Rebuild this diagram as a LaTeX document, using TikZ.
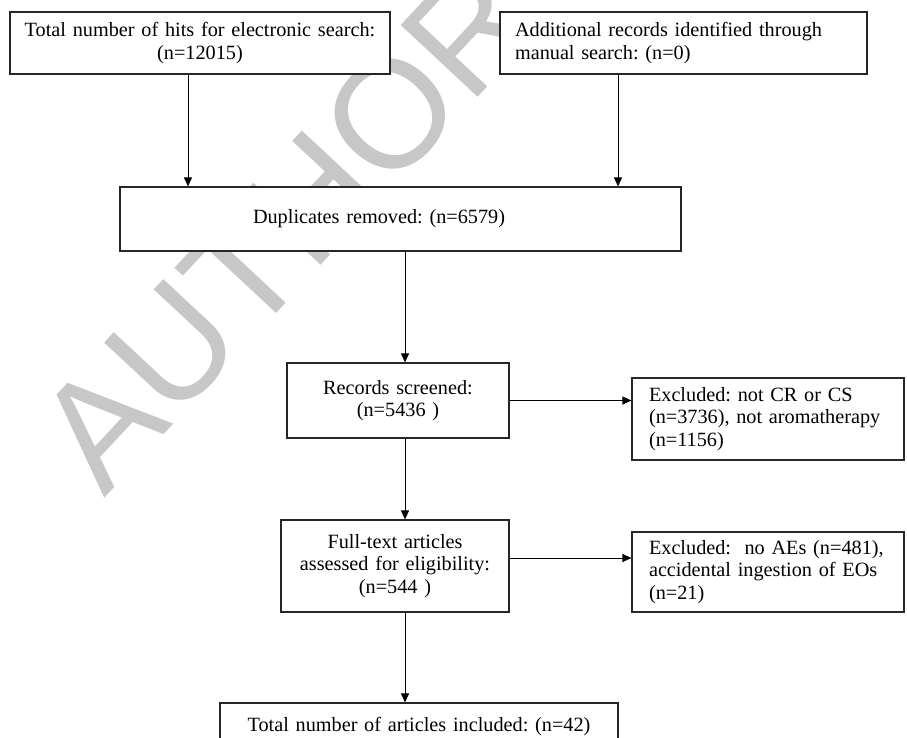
\documentclass[tikz,border=0pt]{standalone}
\usepackage{fontspec}
\setmainfont{Liberation Serif}
\newfontfamily\markfont{Liberation Sans}
\usetikzlibrary{arrows.meta}
\frenchspacing

\begin{document}
\begin{tikzpicture}[x=1pt, y=-1pt,
    box/.style={draw=black!85, line width=1.2pt, fill=white, inner ysep=0pt, inner xsep=15pt,
      font=\fontsize{20.25}{22.5}\selectfont},
    arr/.style={-{Triangle[length=9pt, width=8pt]}, line width=1pt}]
  \useasboundingbox (0,0) rectangle (907,738);

  % Watermark
  \node[font=\markfont\fontsize{153}{153}\selectfont, text=black!22, rotate=47] (mark) at (286,226) {AUTHOR};

  % Identification
  \node[box, minimum height=62pt, inner xsep=5pt, text width=370pt, align=center] (hits) at (200,43)
    {Total number of hits for electronic search:\\(n=12015)};
  \node[box, minimum height=62pt, text width=337pt, align=left] (manual) at (683.5,43)
    {Additional records identified through\\manual search: (n=0)};
  \node[box, minimum height=64pt, inner xsep=133pt, text width=295pt, align=left] (dupl) at (400.5,219)
    {Duplicates removed: (n=6579)};

  % Screening and eligibility
  \node[box, minimum height=75pt, text width=192pt, align=center] (screen) at (398,400.5)
    {Records screened:\\(n=5436 )};
  \node[box, minimum height=82pt, inner xsep=17pt, text width=238pt, align=left] (exclA) at (768,419)
    {Excluded: not CR or CS\\(n=3736), not aromatherapy\\(n=1156)};
  \node[box, minimum height=92pt, text width=198pt, align=center] (fulltext) at (395,566)
    {Full-text articles\\assessed for eligibility:\\(n=544 )};
  \node[box, minimum height=80pt, inner xsep=17pt, text width=238pt, align=left] (exclB) at (768,572)
    {Excluded:\ \ no AEs (n=481),\\accidental ingestion of EOs\\(n=21)};

  % Included
  \node[box, minimum height=48pt, text width=368pt, align=center] (included) at (419,727)
    {Total number of articles included: (n=42)};

  % Arrows
  \draw[arr] ([xshift=-12pt]hits.south) -- ([xshift=-12pt]hits.south |- dupl.north);
  \draw[arr] ([xshift=-65.5pt]manual.south) -- ([xshift=-65.5pt]manual.south |- dupl.north);
  \draw[arr] ([xshift=4.5pt]dupl.south) -- ([xshift=4.5pt]dupl.south |- screen.north);
  \draw[arr] ([xshift=7pt]screen.south) -- ([xshift=7pt]screen.south |- fulltext.north);
  \draw[arr] ([xshift=10pt]fulltext.south) -- ([xshift=10pt]fulltext.south |- included.north);
  \draw[arr] (screen.east) -- (screen.east -| exclA.west);
  \draw[arr] ([yshift=8pt]fulltext.east) -- ([yshift=8pt]fulltext.east -| exclB.west);
\end{tikzpicture}
\end{document}
